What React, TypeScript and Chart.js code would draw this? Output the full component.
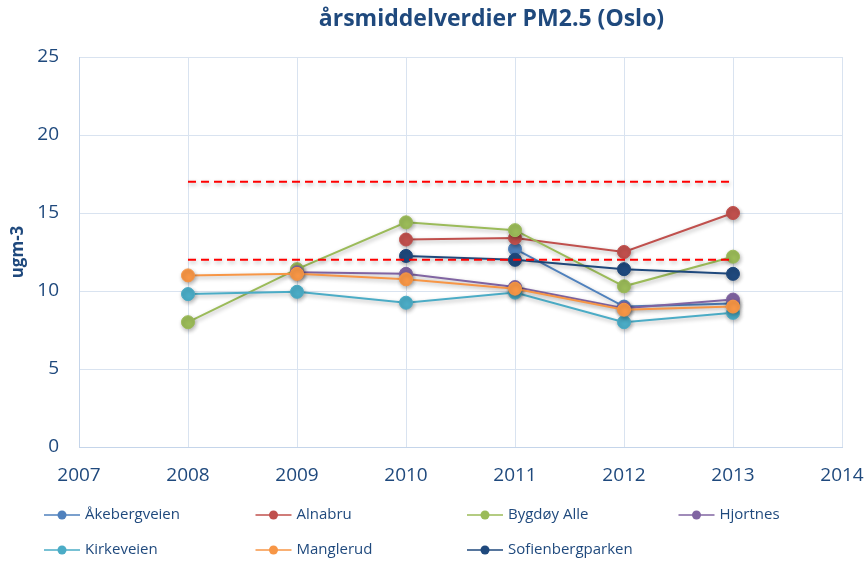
import React, { useEffect, useRef } from "react";
import { Chart, registerables } from "chart.js";

Chart.register(...registerables);

const years = [2008, 2009, 2010, 2011, 2012, 2013];
const seriesNames = [
  "Åkebergveien",
  "Alnabru",
  "Bygdøy Alle",
  "Hjortnes",
  "Kirkeveien",
  "Manglerud",
  "Sofienbergparken",
];
const akebergveien = [null, null, null, 12.7, 9.0, 9.2];
const alnabru = [null, null, 13.3, 13.4, 12.5, 15.0];
const bygdoyAlle = [8.0, 11.4, 14.4, 13.9, 10.3, 12.2];
const hjortnes = [null, 11.2, 11.1, 10.25, 8.9, 9.45];
const kirkeveien = [9.8, 9.95, 9.25, 9.9, 8.0, 8.6];
const manglerud = [11.0, 11.1, 10.75, 10.15, 8.8, 9.0];
const sofienbergparken = [null, null, 12.25, 12.0, 11.4, 11.1];
const limitUpper = [17, 17, 17, 17, 17, 17];
const limitLower = [12, 12, 12, 12, 12, 12];
const colors = ["#4F81BD", "#C0504D", "#9BBB59", "#8064A2", "#4BACC6", "#F79646", "#1F497D"];
const titleText = "årsmiddelverdier PM2.5 (Oslo)";
const yTitle = "ugm-3";
const textColor = "#1F497D";
const fontFamily = "'Open Sans', sans-serif";

const allValues = [akebergveien, alnabru, bygdoyAlle, hjortnes, kirkeveien, manglerud, sofienbergparken];

export default function App() {
  const ref = useRef<HTMLCanvasElement | null>(null);
  useEffect(() => {
    const canvas = ref.current;
    if (!canvas) return;
    const datasets: any[] = allValues.map((vals, i) => ({
      label: seriesNames[i],
      data: years.map((y, j) => ({ x: y, y: vals[j] })),
      borderColor: colors[i],
      backgroundColor: colors[i],
      borderWidth: 2,
      pointRadius: 6.5,
      pointBorderWidth: 1,
      pointBorderColor: colors[i],
      spanGaps: false,
      order: 20 - i,
    }));
    [limitUpper, limitLower].forEach((vals, k) => {
      datasets.push({
        label: "limit" + k,
        data: years.map((y, j) => ({ x: y, y: vals[j] })),
        borderColor: "#FF0000",
        borderWidth: 2,
        borderDash: [8, 5],
        pointRadius: 0,
        order: 5,
      });
    });

    const shadowPlugin = {
      id: "shadow",
      beforeDatasetDraw(chart: any) {
        const ctx = chart.ctx;
        ctx.save();
        ctx.shadowColor = "rgba(0,0,0,0.3)";
        ctx.shadowBlur = 4;
        ctx.shadowOffsetX = 1;
        ctx.shadowOffsetY = 2;
      },
      afterDatasetDraw(chart: any) {
        chart.ctx.restore();
      },
    };

    const titleLegendPlugin = {
      id: "titleLegend",
      afterDraw(chart: any) {
        const ctx = chart.ctx;
        const area = chart.chartArea;
        ctx.save();
        ctx.fillStyle = textColor;
        ctx.font = `bold 23px ${fontFamily}`;
        ctx.textAlign = "center";
        ctx.textBaseline = "middle";
        ctx.fillText(titleText, (area.left + area.right) / 2 + 31, 19);
        // legend
        ctx.font = `15px ${fontFamily}`;
        ctx.textAlign = "left";
        seriesNames.forEach((name, i) => {
          const col = i % 4;
          const row = Math.floor(i / 4);
          const x0 = 44 + col * 211.5;
          const yc = area.bottom + 68 + row * 35;
          ctx.strokeStyle = colors[i];
          ctx.lineWidth = 1.5;
          ctx.beginPath();
          ctx.moveTo(x0, yc);
          ctx.lineTo(x0 + 36, yc);
          ctx.stroke();
          ctx.fillStyle = colors[i];
          ctx.beginPath();
          ctx.arc(x0 + 18, yc, 4.5, 0, Math.PI * 2);
          ctx.fill();
          ctx.fillStyle = textColor;
          ctx.fillText(name, x0 + 41, yc);
        });
        ctx.restore();
      },
    };

    const chart = new Chart(canvas, {
      type: "line",
      data: { datasets },
      options: {
        animation: false,
        responsive: false,
        maintainAspectRatio: false,
        layout: { padding: { top: 57, right: 25, bottom: 74, left: 0 } },
        plugins: {
          legend: { display: false },
          title: { display: false },
          tooltip: { enabled: false },
        },
        scales: {
          x: {
            type: "linear",
            min: 2007,
            max: 2014,
            ticks: {
              stepSize: 1,
              color: textColor,
              font: { family: fontFamily, size: 19 },
              padding: 17,
              callback: (v: any) => String(v),
            },
            grid: { color: "#D9E3F0", lineWidth: 1, drawTicks: false },
            border: { color: "#C5D5EA" },
            afterFit: (s: any) => {
              s.height = 40;
              s.paddingLeft = 0;
              s.paddingRight = 0;
            },
          },
          y: {
            min: 0,
            max: 25,
            ticks: {
              stepSize: 5,
              color: textColor,
              font: { family: fontFamily, size: 19 },
              padding: 20,
            },
            grid: { color: "#D9E3F0", lineWidth: 1, drawTicks: false },
            border: { color: "#C5D5EA" },
            title: {
              display: true,
              text: yTitle,
              color: textColor,
              font: { family: fontFamily, size: 17, weight: "bold" },
              padding: { top: 8, bottom: 6 },
            },
            afterFit: (s: any) => {
              s.width = 79;
              s.paddingTop = 0;
              s.paddingBottom = 0;
            },
          },
        },
      },
      plugins: [shadowPlugin, titleLegendPlugin],
    });
    return () => chart.destroy();
  }, []);
  return (
    <div style={{ position: "absolute", left: 0, top: 0, width: 867, height: 561, background: "#fff" }}>
      <canvas ref={ref} width={867} height={561} style={{ width: 867, height: 561, display: "block" }} />
    </div>
  );
}
